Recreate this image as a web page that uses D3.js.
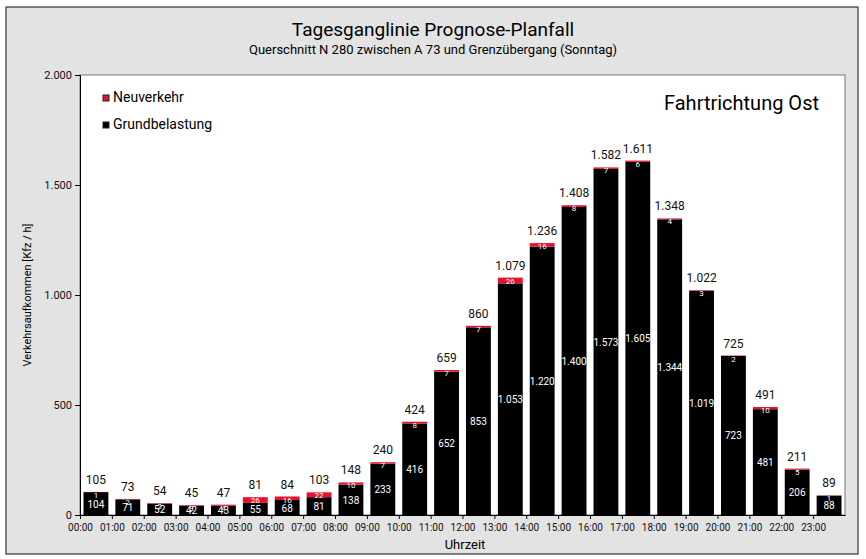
<!DOCTYPE html>
<html>
<head>
<meta charset="utf-8">
<script src="https://cdn.jsdelivr.net/npm/d3@7"></script>
<style>
  body { margin: 0; background: #fff; }
  svg text { font-family: Roboto, "Noto Sans", sans-serif; }
</style>
</head>
<body>
<script>
var width = 866, height = 559;

// Uhrzeit categories
var hours = ["00:00","01:00","02:00","03:00","04:00","05:00","06:00","07:00","08:00","09:00","10:00","11:00",
             "12:00","13:00","14:00","15:00","16:00","17:00","18:00","19:00","20:00","21:00","22:00","23:00"];
var grund = [104,71,52,42,43,55,68,81,138,233,416,652,853,1053,1220,1400,1573,1605,1344,1019,723,481,206,88];
var neu   = [1,2,2,3,4,26,16,22,10,7,8,7,7,26,16,8,7,6,4,3,2,10,5,1];
var total = [105,73,54,45,47,81,84,103,148,240,424,659,860,1079,1236,1408,1582,1611,1348,1022,725,491,211,89];
var yTicks = [0,500,1000,1500,2000];

var de = d3.formatLocale({decimal: ",", thousands: ".", grouping: [3], currency: ["", " €"]});
var fmt = de.format(",d");

var margin = {top: 75, right: 21, bottom: 44, left: 80};
var w = width - margin.left - margin.right,
    h = height - margin.top - margin.bottom;

var svg = d3.select("body").append("svg")
    .attr("width", width)
    .attr("height", height);

// grey frame
svg.append("rect")
    .attr("x", 6).attr("y", 7)
    .attr("width", 852).attr("height", 547)
    .attr("fill", "#e3e3e3")
    .attr("stroke", "#333")
    .attr("stroke-width", 1.2);

svg.append("text")
    .attr("x", 433).attr("y", 36)
    .attr("text-anchor", "middle")
    .style("font-size", "19px")
    .text("Tagesganglinie Prognose-Planfall");

svg.append("text")
    .attr("x", 433).attr("y", 54)
    .attr("text-anchor", "middle")
    .style("font-size", "13px")
    .text("Querschnitt N 280 zwischen A 73 und Grenzübergang (Sonntag)");

var g = svg.append("g")
    .attr("transform", "translate(" + margin.left + "," + margin.top + ")");

g.append("rect")
    .attr("width", w).attr("height", h)
    .attr("fill", "#fff")
    .attr("stroke", "#777")
    .attr("stroke-width", 1);

var x = d3.scaleBand()
    .domain(hours)
    .range([0, w])
    .paddingInner(0.22)
    .paddingOuter(0.11);

var y = d3.scaleLinear()
    .domain([0, 2000])
    .range([h, 0]);

// axes
g.append("g")
    .call(d3.axisLeft(y).tickValues(yTicks).tickFormat(fmt).tickSize(5))
    .call(function (a) {
        a.select(".domain").attr("stroke", "#000");
        a.selectAll("text").style("font-size", "11px").attr("fill", "#111");
    });

var xt = d3.scaleLinear().domain([0, hours.length]).range([0, w]);
var xa = g.append("g")
    .attr("transform", "translate(0," + h + ")")
    .call(d3.axisBottom(xt).tickValues(d3.range(hours.length)).tickFormat(function (i) { return hours[i]; }).tickSize(4).tickSizeOuter(0));
xa.select(".domain").attr("stroke", "#000");
xa.selectAll("text").style("font-size", "10px").attr("fill", "#111").attr("dy", "0.85em");

// stacked bars
var bars = g.selectAll(".bar")
    .data(hours)
    .enter().append("g")
    .attr("class", "bar");

bars.append("rect")
    .attr("x", function (d) { return x(d); })
    .attr("width", x.bandwidth())
    .attr("y", function (d, i) { return y(grund[i]); })
    .attr("height", function (d, i) { return y(0) - y(grund[i]); })
    .attr("fill", "#000");

bars.append("rect")
    .attr("x", function (d) { return x(d); })
    .attr("width", x.bandwidth())
    .attr("y", function (d, i) { return y(grund[i] + neu[i]); })
    .attr("height", function (d, i) { return y(grund[i]) - y(grund[i] + neu[i]); })
    .attr("fill", "#e8112d");

// labels
bars.append("text")
    .attr("x", function (d) { return x(d) + x.bandwidth() / 2; })
    .attr("y", function (d, i) { return (y(grund[i]) + y(0)) / 2 + 4; })
    .attr("text-anchor", "middle")
    .attr("fill", "#fff")
    .style("font-size", "10px")
    .text(function (d, i) { return fmt(grund[i]); });

bars.append("text")
    .attr("x", function (d) { return x(d) + x.bandwidth() / 2; })
    .attr("y", function (d, i) { return y(grund[i] + neu[i]) + 6; })
    .attr("text-anchor", "middle")
    .attr("fill", "#fff")
    .style("font-size", "8px")
    .text(function (d, i) { return neu[i]; });

bars.append("text")
    .attr("x", function (d) { return x(d) + x.bandwidth() / 2; })
    .attr("y", function (d, i) { return y(total[i]) - 8; })
    .attr("text-anchor", "middle")
    .attr("fill", "#111")
    .style("font-size", "12px")
    .text(function (d, i) { return fmt(total[i]); });

// legend
var legend = g.selectAll(".legend")
    .data([["Neuverkehr", "#e8112d"], ["Grundbelastung", "#000"]])
    .enter().append("g")
    .attr("transform", function (d, i) { return "translate(23," + (20 + i * 27) + ")"; });

legend.append("rect")
    .attr("width", 6).attr("height", 6)
    .attr("fill", function (d) { return d[1]; })
    .attr("stroke", "#222");

legend.append("text")
    .attr("x", 10).attr("y", 7)
    .style("font-size", "14px")
    .text(function (d) { return d[0]; });

g.append("text")
    .attr("x", w - 26).attr("y", 35)
    .attr("text-anchor", "end")
    .style("font-size", "20px")
    .text("Fahrtrichtung Ost");

// axis titles
svg.append("text")
    .attr("transform", "translate(31," + (margin.top + h / 2) + ") rotate(-90)")
    .attr("text-anchor", "middle")
    .style("font-size", "11px")
    .text("Verkehrsaufkommen [Kfz / h]");

svg.append("text")
    .attr("x", 465).attr("y", 549)
    .attr("text-anchor", "middle")
    .style("font-size", "13px")
    .text("Uhrzeit");
</script>
</body>
</html>
